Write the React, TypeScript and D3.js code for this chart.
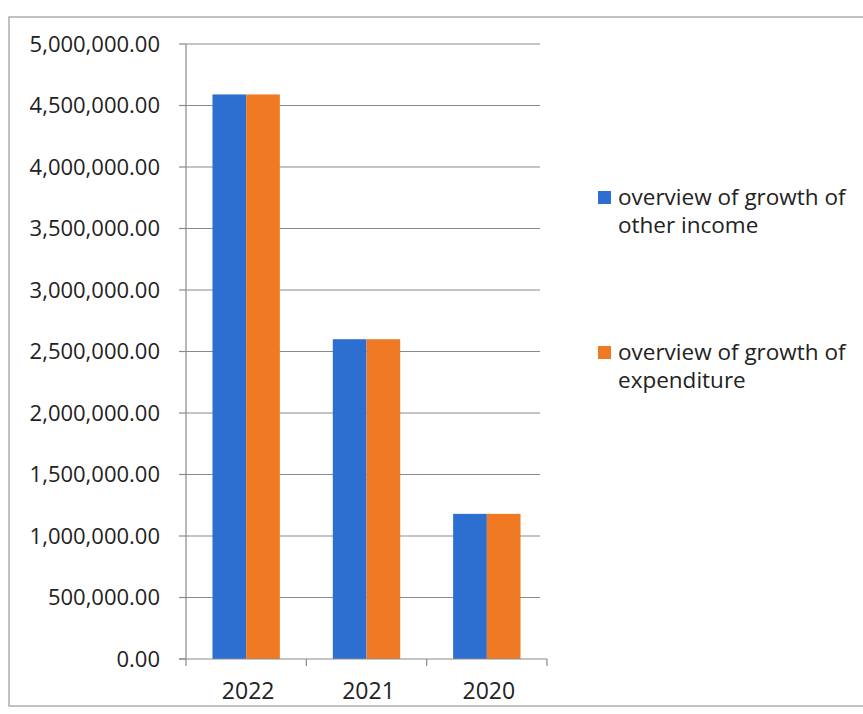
import React from "react";
import * as d3 from "d3";

const categories = ["2022", "2021", "2020"];
const seriesNames = ["overview of growth of other income", "overview of growth of expenditure"];
const otherIncome = [4590000, 2600000, 1180000];
const expenditure = [4590000, 2600000, 1180000];
const yTicks = [0, 500000, 1000000, 1500000, 2000000, 2500000, 3000000, 3500000, 4000000, 4500000, 5000000];
const colors = ["#2c6fd1", "#f07a24"];

export default function App() {
  const W = 863, H = 714;
  const left = 186, right = 547, top = 44, bottom = 659;
  const x = d3.scaleBand<string>().domain(categories).range([left, right]).paddingInner(0.44).paddingOuter(0.22);
  const xs = d3.scaleBand<string>().domain(["a", "b"]).range([0, x.bandwidth()]);
  const y = d3.scaleLinear().domain([0, 5000000]).range([bottom, top]);
  const fmt = d3.format(",.2f");
  const font = "'Open Sans', 'Liberation Sans', sans-serif";
  const series = [otherIncome, expenditure];
  const bandStep = (right - left) / categories.length;
  const legendLines = [["overview of growth of", "other income"], ["overview of growth of", "expenditure"]];
  return (
    <div style={{ position: "fixed", left: 0, top: 0 }}>
      <svg width={W} height={H} style={{ display: "block", background: "#fff" }}>
        <rect x={9} y={17} width={900} height={689} fill="none" stroke="#9a9a9a" strokeWidth={1.2} />
        {yTicks.map((t) => (
          <g key={t}>
            {t > 0 && <line x1={left} x2={540} y1={y(t)} y2={y(t)} stroke="#8a8a8a" strokeWidth={1.2} />}
            <line x1={left - 7} x2={left} y1={y(t)} y2={y(t)} stroke="#8a8a8a" strokeWidth={1.2} />
            <text x={160} y={y(t)} dy="0.36em" textAnchor="end" fontFamily={font} fontSize={22} fill="#222">
              {fmt(t)}
            </text>
          </g>
        ))}
        {categories.map((c, i) =>
          series.map((s, j) => (
            <rect
              key={c + j}
              x={(x(c) ?? 0) + (xs(j === 0 ? "a" : "b") ?? 0)}
              y={y(s[i])}
              width={xs.bandwidth()}
              height={bottom - y(s[i])}
              fill={colors[j]}
            />
          ))
        )}
        <line x1={left} x2={left} y1={top} y2={bottom} stroke="#8a8a8a" strokeWidth={1.2} />
        <line x1={left - 7} x2={right} y1={bottom} y2={bottom} stroke="#8a8a8a" strokeWidth={1.2} />
        {d3.range(categories.length + 1).map((k) => (
          <line key={k} x1={left + k * bandStep} x2={left + k * bandStep} y1={bottom} y2={bottom + 7} stroke="#8a8a8a" strokeWidth={1.2} />
        ))}
        {categories.map((c) => (
          <text key={c} x={(x(c) ?? 0) + x.bandwidth() / 2 + 2} y={699} textAnchor="middle" fontFamily={font} fontSize={23} fill="#222">
            {c}
          </text>
        ))}
        {seriesNames.map((n, j) => (
          <g key={n} transform={`translate(598, ${191 + j * 155})`}>
            <rect x={0} y={0} width={13} height={13} fill={colors[j]} />
            <text x={20} y={14} fontFamily={font} fontSize={22.5} fill="#222">
              {legendLines[j][0]}
            </text>
            <text x={20} y={42} fontFamily={font} fontSize={22.5} fill="#222">
              {legendLines[j][1]}
            </text>
          </g>
        ))}
      </svg>
    </div>
  );
}
